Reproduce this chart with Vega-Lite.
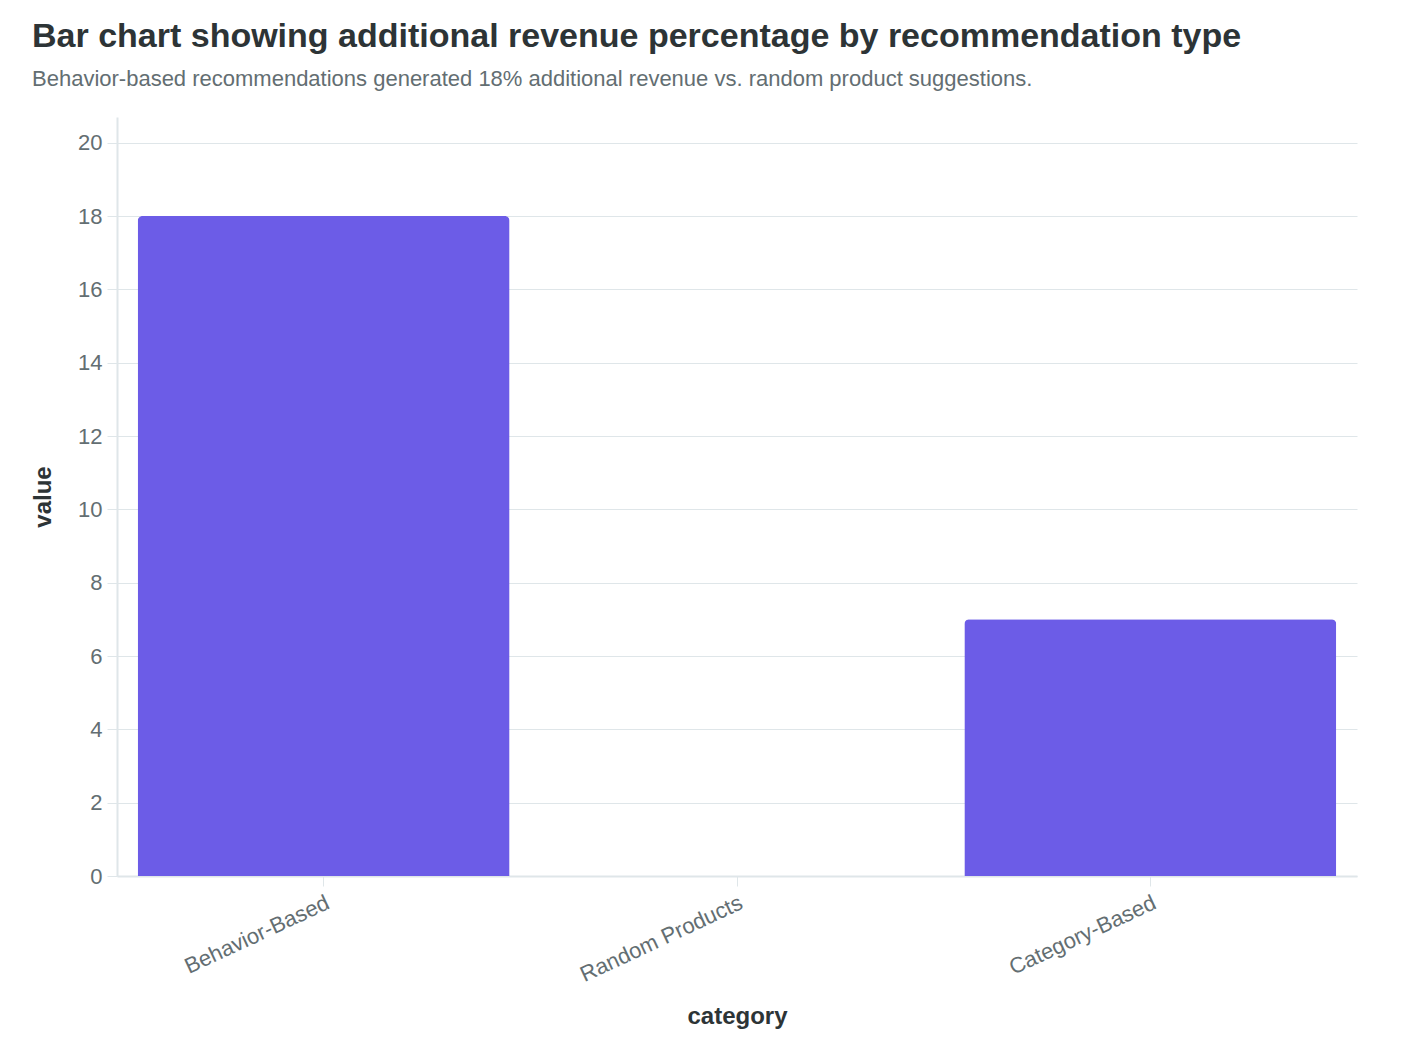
{
  "$schema": "https://vega.github.io/schema/vega-lite/v6.json",
  "autosize": {"type": "none"},
  "padding": {"left": 117, "top": 117, "right": 49, "bottom": 182},
  "width": 1240,
  "height": 759,
  "background": "white",
  "config": {
    "font": "Liberation Sans",
    "view": {"stroke": null},
    "axis": {
      "labelFont": "Liberation Sans",
      "titleFont": "Liberation Sans",
      "labelColor": "#636e72",
      "titleColor": "#2d3436",
      "domainColor": "#dfe6e9",
      "tickColor": "#dfe6e9",
      "gridColor": "#dfe6e9",
      "domainWidth": 2,
      "tickWidth": 1,
      "tickSize": 10,
      "labelFontSize": 22,
      "titleFontSize": 24,
      "titleFontWeight": "bold"
    }
  },
  "title": {
    "text": "Bar chart showing additional revenue percentage by recommendation type",
    "subtitle": "Behavior-based recommendations generated 18% additional revenue vs. random product suggestions.",
    "anchor": "start",
    "frame": "group",
    "dx": -85,
    "offset": 27,
    "font": "Liberation Sans",
    "fontSize": 34,
    "fontWeight": "bold",
    "color": "#2d3436",
    "subtitleFont": "Liberation Sans",
    "subtitleFontSize": 22,
    "subtitleColor": "#636e72",
    "subtitlePadding": 15
  },
  "data": {
    "values": [
      {"category": "Behavior-Based", "value": 18},
      {"category": "Random Products", "value": 0},
      {"category": "Category-Based", "value": 7}
    ]
  },
  "mark": {
    "type": "bar",
    "color": "#6c5ce7",
    "cornerRadiusTopLeft": 5,
    "cornerRadiusTopRight": 5
  },
  "encoding": {
    "x": {
      "field": "category",
      "type": "nominal",
      "sort": null,
      "scale": {"paddingInner": 0.1, "paddingOuter": 0.05},
      "axis": {
        "labelAngle": -25,
        "labelAlign": "right",
        "labelBaseline": "top",
        "labelPadding": 6,
        "grid": false,
        "titlePadding": 19
      }
    },
    "y": {
      "field": "value",
      "type": "quantitative",
      "scale": {"domain": [0, 20.7], "nice": false},
      "axis": {
        "tickCount": 10,
        "grid": true,
        "labelPadding": 5,
        "titlePadding": 22
      }
    }
  }
}
